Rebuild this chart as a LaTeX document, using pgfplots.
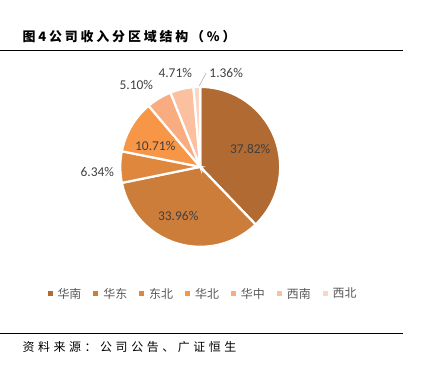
\documentclass[border=0pt]{standalone}
\usepackage{pgfplots}
\pgfplotsset{compat=1.18}
\usepackage{fontspec}
\setmainfont{Carlito}
\newfontfamily\cjk{Noto Sans CJK SC}
\newfontfamily\cjkwide[LetterSpace=22]{Noto Sans CJK SC}
\newfontfamily\cjkwider[LetterSpace=30]{Noto Sans CJK SC}
\definecolor{c1}{RGB}{176,106,50}
\definecolor{c2}{RGB}{205,125,58}
\definecolor{c3}{RGB}{224,135,62}
\definecolor{c4}{RGB}{247,150,70}
\definecolor{c5}{RGB}{248,172,128}
\definecolor{c6}{RGB}{250,192,160}
\definecolor{c7}{RGB}{251,214,196}
\definecolor{lab}{RGB}{64,64,64}
\begin{document}
\begin{tikzpicture}
\begin{axis}[
  scale only axis, width=438bp, height=379bp,
  xmin=0, xmax=438, ymin=0, ymax=379,
  axis lines=none, clip=false,
  legend columns=7,
  legend style={draw=none, at={(axis cs:47,85)}, anchor=west,
    font=\cjk\fontsize{12}{13}\selectfont, text=black!65,
    /tikz/every odd column/.style={column sep=3bp},
    /tikz/every even column/.style={column sep=10bp},
    inner sep=0pt},
  legend image code/.code={\fill[#1, draw=none] (0bp,-2.5bp) rectangle (5bp,2.5bp);},
]
\path (axis cs:0,0) rectangle (axis cs:438,379);
\def\cx{200}\def\cy{212}\def\R{80}
\foreach \v/\c/\n [remember=\b as \a (initially 90)] in
  {37.82/c1/华南, 33.96/c2/华东, 6.34/c3/东北, 10.71/c4/华北, 5.10/c5/华中, 4.71/c6/西南, 1.36/c7/西北}{
  \pgfmathsetmacro\b{\a-3.6*\v}
  \edef\temp{\noexpand\addplot[fill=\c, draw=white, line width=2.2pt, domain=\b:\a, samples=80]
     ({\cx+\R*cos(x)},{\cy+\R*sin(x)}) -- (axis cs:\cx,\cy) -- cycle;
     \noexpand\addlegendentry{\n}}
  \temp
}
\begin{scope}[every node/.style={font=\fontsize{13.5}{15}\selectfont, text=lab, inner sep=0pt}]
\node at (axis cs:250,230) {37.82\%};
\node at (axis cs:178,163) {33.96\%};
\node at (axis cs:155,233) {10.71\%};
\node at (axis cs:97,207) {6.34\%};
\node at (axis cs:136,294) {5.10\%};
\node at (axis cs:175,306) {4.71\%};
\node at (axis cs:226,306) {1.36\%};
\end{scope}
\draw[gray!70, line width=0.5pt] (axis cs:199,293) -- (axis cs:206,306);
% title and rules
\node[anchor=west, inner sep=0pt, font=\cjkwide\bfseries\fontsize{13}{15}\selectfont] at (axis cs:22,342) {图4公司收入分区域结构（\%）};
\draw[black, line width=0.8pt] (axis cs:0,329) -- (axis cs:403,329);
\draw[black, line width=0.8pt] (axis cs:0,45) -- (axis cs:403,45);
\node[anchor=west, inner sep=0pt, font=\cjkwider\fontsize{12}{14}\selectfont] at (axis cs:22,32) {资料来源：公司公告、广证恒生};
\end{axis}
\end{tikzpicture}
\end{document}
